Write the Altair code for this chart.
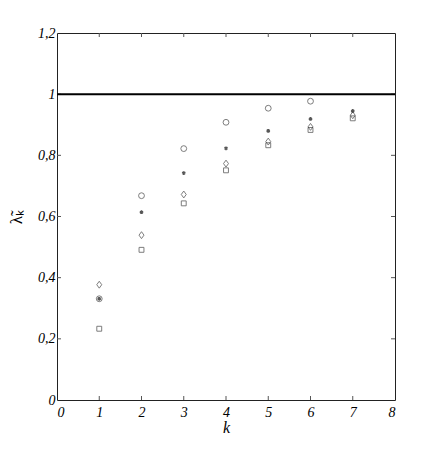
import altair as alt
import pandas as pd

k_vals = [1, 2, 3, 4, 5, 6, 7]
circle_k = [1, 2, 3, 4, 5, 6]
circle_vals = [0.331, 0.668, 0.822, 0.908, 0.954, 0.977]
star_vals = [0.331, 0.614, 0.742, 0.823, 0.880, 0.919, 0.945]
diamond_vals = [0.377, 0.539, 0.672, 0.773, 0.845, 0.893, 0.931]
square_vals = [0.233, 0.491, 0.643, 0.751, 0.833, 0.883, 0.921]
x_ticks = [1, 2, 3, 4, 5, 6, 7]
y_ticks = [0.2, 0.4, 0.6, 0.8, 1.0]
ref_level = [1.0]

W, H = 338, 367
FONT = "Times New Roman"

xs = alt.Scale(domain=[0, 8], nice=False, zero=True)
ys = alt.Scale(domain=[0, 1.2], nice=False, zero=True)

x_axis = alt.Axis(values=list(range(0, 9)), ticks=False, domain=False, grid=False,
                  labelFont=FONT, labelFontStyle="italic", labelFontSize=14,
                  labelColor="black", labelPadding=5,
                  title="k", titleFont=FONT, titleFontStyle="italic",
                  titleFontSize=16, titleFontWeight="normal", titleColor="black",
                  titlePadding=0)
y_axis = alt.Axis(values=[0, 0.2, 0.4, 0.6, 0.8, 1.0, 1.2], ticks=False, domain=False,
                  grid=False, labelFont=FONT, labelFontStyle="italic", labelFontSize=14,
                  labelColor="black", labelPadding=2,
                  labelExpr="replace(format(datum.value, '.1~f'), '.', ',')",
                  title="λ̃ₖ", titleFont=FONT, titleFontStyle="normal",
                  titleFontSize=17, titleFontWeight="normal", titleColor="black",
                  titlePadding=12)

def pts(ks, vals):
    return pd.DataFrame({"k": ks, "v": vals})

base_x = alt.X("k:Q", scale=xs, axis=x_axis)
base_y = alt.Y("v:Q", scale=ys, axis=y_axis)

circles = alt.Chart(pts(circle_k, circle_vals)).mark_point(
    shape="circle", size=34, filled=False, stroke="#333", strokeWidth=0.9
).encode(x=base_x, y=base_y)

squares = alt.Chart(pts(k_vals, square_vals)).mark_point(
    shape="square", size=24, filled=False, stroke="#333", strokeWidth=0.9
).encode(x=base_x, y=base_y)

diamonds = alt.Chart(pts(k_vals, diamond_vals)).mark_point(
    shape="M0,-1L0.72,0L0,1L-0.72,0Z", size=48, filled=False, stroke="#333", strokeWidth=0.9
).encode(x=base_x, y=base_y)

stars = alt.Chart(pts(k_vals, star_vals)).mark_point(
    shape="M0,-1L0,1M-0.87,-0.5L0.87,0.5M-0.87,0.5L0.87,-0.5", size=14,
    filled=False, stroke="#111", strokeWidth=1.4
).encode(x=base_x, y=base_y)

ref = alt.Chart(pd.DataFrame({"v": ref_level})).mark_rule(
    color="black", strokeWidth=2
).encode(y=alt.Y("v:Q", scale=ys, axis=y_axis))

xt = pd.DataFrame({"k": x_ticks})
yt = pd.DataFrame({"v": y_ticks})
tick_style = dict(color="#555", strokeWidth=1)
bottom_ticks = alt.Chart(xt).mark_rule(**tick_style).encode(
    x=alt.X("k:Q", scale=xs, axis=x_axis), y=alt.value(H), y2=alt.value(H - 4))
top_ticks = alt.Chart(xt).mark_rule(**tick_style).encode(
    x=alt.X("k:Q", scale=xs, axis=x_axis), y=alt.value(0), y2=alt.value(4))
left_ticks = alt.Chart(yt).mark_rule(**tick_style).encode(
    y=alt.Y("v:Q", scale=ys, axis=y_axis), x=alt.value(0), x2=alt.value(4))
right_ticks = alt.Chart(yt).mark_rule(**tick_style).encode(
    y=alt.Y("v:Q", scale=ys, axis=y_axis), x=alt.value(W), x2=alt.value(W - 4))

chart = alt.layer(
    bottom_ticks, top_ticks, left_ticks, right_ticks, ref,
    squares, diamonds, circles, stars
).properties(
    width=W, height=H,
    background="white",
    autosize=alt.AutoSizeParams(type="none"),
    padding={"left": 49, "top": 25, "right": 25, "bottom": 40},
).configure_view(
    stroke="#222", strokeWidth=1
)

chart.save("out.html", embed_options={"renderer": "svg", "actions": False})
